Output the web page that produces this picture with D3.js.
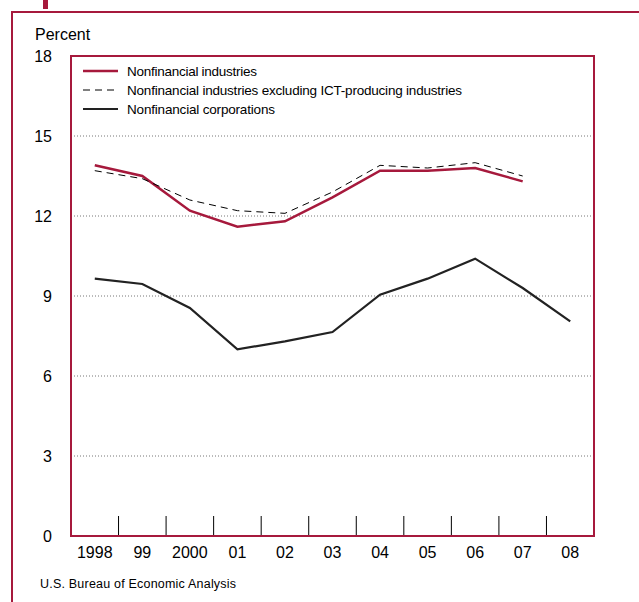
<!DOCTYPE html>
<html><head><meta charset="utf-8">
<script src="https://cdn.jsdelivr.net/npm/d3@7"></script>
<style>body{margin:0;background:#fff}text{font-family:"Liberation Sans",Arial,sans-serif}</style>
</head><body><svg width="639" height="602"></svg>
<script>
const years = ['1998','99','2000','01','02','03','04','05','06','07','08']
const nonfinInd = [13.9, 13.5, 12.2, 11.6, 11.8, 12.7, 13.7, 13.7, 13.8, 13.3, null]
const nonfinExIct = [13.7, 13.4, 12.6, 12.2, 12.1, 12.9, 13.9, 13.8, 14.0, 13.5, null]
const nonfinCorp = [9.65, 9.45, 8.55, 7.0, 7.3, 7.65, 9.05, 9.65, 10.4, 9.3, 8.05]
const yTicks = [0, 3, 6, 9, 12, 15, 18]

const red = '#a6193c'
const svg = d3.select('svg')
const m = {l: 71, r: 594, t: 56, b: 536}

// outer frame and cut-off title marker
svg.append('rect').attr('x', 12).attr('y', 12).attr('width', 700).attr('height', 700)
	.attr('fill', 'none').attr('stroke', red).attr('stroke-width', 2)
svg.append('rect').attr('x', 43).attr('y', 0).attr('width', 5).attr('height', 9).attr('fill', red)

const x = d3.scaleBand().domain(years).range([m.l, m.r])
const y = d3.scaleLinear().domain([0, 18]).range([m.b, m.t])

svg.append('text').attr('x', 35).attr('y', 40).attr('font-size', 16).text('Percent')

// gridlines
svg.append('g').selectAll('line').data(yTicks.filter(d => d > 0 && d < 18)).enter().append('line')
	.attr('x1', m.l).attr('x2', m.r).attr('y1', d => y(d)).attr('y2', d => y(d))
	.attr('stroke', '#777').attr('stroke-dasharray', '1,2')

const yAxis = svg.append('g').selectAll('text').data(yTicks).enter().append('text')
	.attr('x', 52).attr('y', d => y(d) + 6).attr('text-anchor', 'end').attr('font-size', 16).text(d => d)

// x ticks between bands
svg.append('g').selectAll('line').data(years.slice(1)).enter().append('line')
	.attr('x1', d => x(d)).attr('x2', d => x(d)).attr('y1', m.b).attr('y2', m.b - 20)
	.attr('stroke', '#000')
svg.append('g').selectAll('text').data(years).enter().append('text')
	.attr('x', d => x(d) + x.bandwidth() / 2).attr('y', m.b + 22).attr('text-anchor', 'middle')
	.attr('font-size', 16).text(d => d)

const line = d3.line().defined(d => d != null)
	.x((d, i) => x(years[i]) + x.bandwidth() / 2).y(d => y(d))

const series = [
	{name: 'Nonfinancial industries', data: nonfinInd, color: red, w: 2.5, dash: null},
	{name: 'Nonfinancial industries excluding ICT-producing industries', data: nonfinExIct, color: '#000', w: 1, dash: '7,5'},
	{name: 'Nonfinancial corporations', data: nonfinCorp, color: '#222', w: 2.2, dash: null}
]
series.forEach(s => {
	svg.append('path').datum(s.data).attr('d', line).attr('fill', 'none')
		.attr('stroke', s.color).attr('stroke-width', s.w).attr('stroke-dasharray', s.dash)
})

// legend
const lg = svg.append('g').selectAll('g').data(series).enter().append('g')
	.attr('transform', (d, i) => `translate(83,${71 + i * 19})`)
lg.append('line').attr('x1', 0).attr('x2', 35).attr('stroke', d => d.color)
	.attr('stroke-width', d => d.w).attr('stroke-dasharray', d => d.dash)
lg.append('text').attr('x', 44).attr('y', 5).attr('font-size', 13.5).attr('textLength', (d, i) => [130, 335, 148][i]).text(d => d.name)

// plot frame
svg.append('rect').attr('x', m.l).attr('y', m.t).attr('width', m.r - m.l).attr('height', m.b - m.t)
	.attr('fill', 'none').attr('stroke', red).attr('stroke-width', 2)

svg.append('text').attr('x', 40).attr('y', 588).attr('font-size', 12.5).attr('textLength', 196).text('U.S. Bureau of Economic Analysis')
</script></body></html>
